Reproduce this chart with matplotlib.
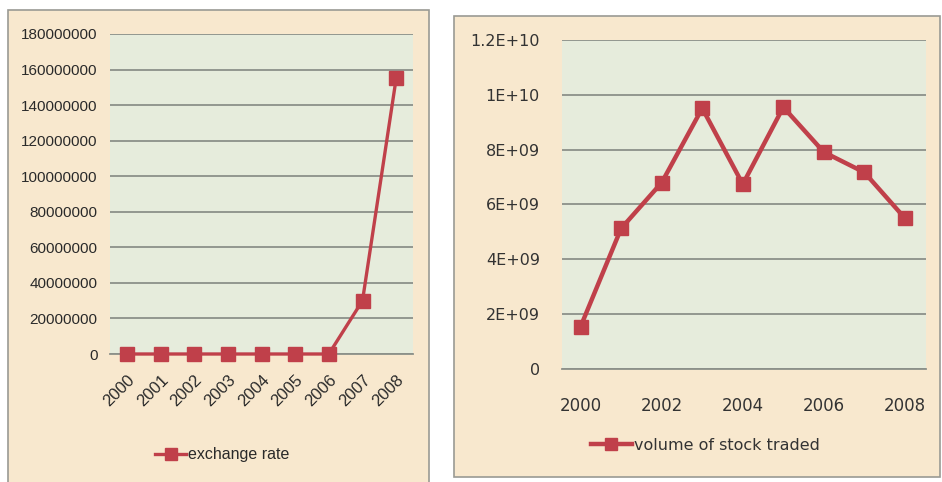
import matplotlib
matplotlib.use("Agg")
import matplotlib.pyplot as plt
from matplotlib.patches import Rectangle

years = [2000, 2001, 2002, 2003, 2004, 2005, 2006, 2007, 2008]
exchange_rate = [0, 0, 0, 0, 0, 0, 0, 30000000, 155000000]
stock_volume = [1.55e9, 5.13e9, 6.80e9, 9.51e9, 6.74e9, 9.55e9, 7.91e9, 7.17e9, 5.50e9]
left_yticks = [0, 20000000, 40000000, 60000000, 80000000, 100000000,
               120000000, 140000000, 160000000, 180000000]
right_yticks = [0, 2e9, 4e9, 6e9, 8e9, 1e10, 1.2e10]
right_ylabels = ["0", "2E+09", "4E+09", "6E+09", "8E+09", "1E+10", "1.2E+10"]
right_xticks = [2000, 2002, 2004, 2006, 2008]

RED = "#C0404A"
PLOT_BG = "#E6ECDC"
PANEL_BG = "#F8E8CE"
GRID = "#8C918A"
W, H = 942, 482

narrow = ["Liberation Sans", "DejaVu Sans"]
wide = ["DejaVu Sans"]

fig = plt.figure(figsize=(W / 100, H / 100), dpi=100)
fig.patch.set_facecolor("white")

def px_rect(x0, y0, x1, y1):
    # pixel box (top-left origin) -> figure fraction [l, b, w, h]
    return [x0 / W, (H - y1) / H, (x1 - x0) / W, (y1 - y0) / H]

# panel backgrounds with thin gray border
for (x0, y0, x1, y1) in [(8, 10, 429, 484), (454, 16, 940, 477)]:
    l, b, w, h = px_rect(x0, y0, x1, y1)
    fig.patches.append(Rectangle((l, b), w, h, transform=fig.transFigure,
                                 facecolor=PANEL_BG, edgecolor="#9A9A94",
                                 linewidth=1.2, zorder=-5))

# ---- left chart: exchange rate ----
ax1 = fig.add_axes(px_rect(110, 34, 413, 354))
ax1.set_facecolor(PLOT_BG)
idx = list(range(len(years)))
ax1.plot(idx, exchange_rate, color=RED, linewidth=2.4, marker="s",
         markersize=10, label="exchange rate", zorder=3, clip_on=False)
ax1.set_xlim(-0.5, len(years) - 0.5)
ax1.set_ylim(0, 180000000)
ax1.set_yticks(left_yticks)
ax1.set_yticklabels([str(v) for v in left_yticks], family=narrow, fontsize=11)
ax1.set_xticks(idx)
ax1.set_xticklabels([str(y) for y in years], family=narrow, fontsize=12,
                    rotation=45, ha="right", rotation_mode="anchor")
ax1.tick_params(axis="y", length=0, pad=9, colors="#2A2A2A")
ax1.tick_params(axis="x", length=0, pad=13, colors="#2A2A2A")
ax1.yaxis.grid(True, color=GRID, linewidth=1.3)
ax1.set_axisbelow(True)
for s in ["top", "right", "left"]:
    ax1.spines[s].set_visible(False)
ax1.spines["bottom"].set_color(GRID)
ax1.spines["bottom"].set_linewidth(1.3)
leg1 = ax1.legend(loc="center", bbox_to_anchor=(222 / W, (H - 455) / H),
                  bbox_transform=fig.transFigure, frameon=False,
                  handlelength=2.0, handletextpad=0.1, markerscale=0.9,
                  prop={"family": narrow, "size": 11.5})
for t in leg1.get_texts():
    t.set_color("#2A2A2A")

# ---- right chart: volume of stock traded ----
ax2 = fig.add_axes(px_rect(562, 40, 926, 369))
ax2.set_facecolor(PLOT_BG)
ax2.plot(years, stock_volume, color=RED, linewidth=3.2, marker="s",
         markersize=10.5, label="volume of stock traded", zorder=3)
ax2.set_xlim(1999.54, 2008.52)
ax2.set_ylim(0, 1.2e10)
ax2.set_yticks(right_yticks)
ax2.set_yticklabels(right_ylabels, family=wide, fontsize=11.5)
ax2.set_xticks(right_xticks)
ax2.set_xticklabels([str(y) for y in right_xticks], family=wide, fontsize=12)
ax2.tick_params(axis="y", length=0, pad=16, colors="#333333")
ax2.tick_params(axis="x", length=0, pad=20, colors="#333333")
ax2.yaxis.grid(True, color=GRID, linewidth=1.3)
ax2.set_axisbelow(True)
for s in ["top", "right", "left"]:
    ax2.spines[s].set_visible(False)
ax2.spines["bottom"].set_color(GRID)
ax2.spines["bottom"].set_linewidth(1.3)
leg2 = ax2.legend(loc="center", bbox_to_anchor=(705 / W, (H - 445) / H),
                  bbox_transform=fig.transFigure, frameon=False,
                  handlelength=2.6, handletextpad=0.1, markerscale=0.8,
                  prop={"family": wide, "size": 11.5})
for t in leg2.get_texts():
    t.set_color("#333333")

fig.savefig("out.png", dpi=100, facecolor=fig.get_facecolor())
